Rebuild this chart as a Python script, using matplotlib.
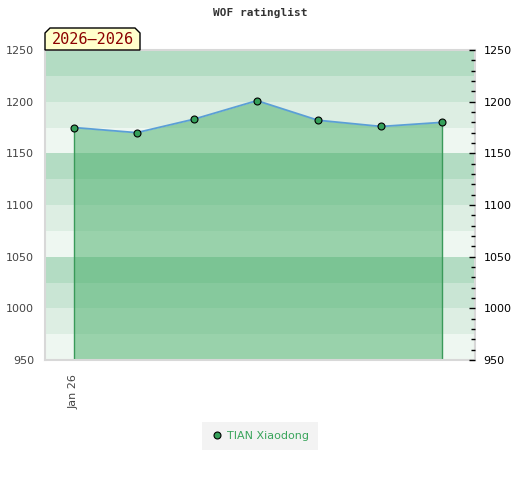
import datetime as dt
import matplotlib
matplotlib.use('Agg')
import matplotlib.pyplot as plt
import matplotlib.dates as mdates
from matplotlib.patches import Polygon
from matplotlib.ticker import MultipleLocator

# monthly rating points
dates = [dt.date(2026, m, 1) for m in range(1, 8)]
ratings = [1175, 1170, 1183, 1201, 1182, 1176, 1180]
player = 'TIAN Xiaodong'
period_label = '2026\u20132026'
y_ticks = [950, 1000, 1050, 1100, 1150, 1200, 1250]
band_colors = ['#eef7f1', '#ddeee3', '#c9e5d4', '#b3dcc3']

W, H = 520, 480
fig = plt.figure(figsize=(W / 100, H / 100), dpi=100)
ax = fig.add_axes([45 / W, 1 - 360 / H, 430 / W, 310 / H])

# background bands of 25 points
lo, hi = 950, 1250
k = 0
for y0 in range(lo, hi, 25):
    ax.axhspan(y0, y0 + 25, color=band_colors[k % 4], lw=0, zorder=0)
    k += 1

ax.fill_between(dates, ratings, lo, color='#45ae67', alpha=0.5, lw=0, zorder=1)
ax.vlines([dates[0], dates[-1]], lo, [ratings[0], ratings[-1]],
          color='#3a9a5a', lw=1, zorder=2)
ax.plot(dates, ratings, color='#5b9fd6', lw=1.3, zorder=3)
ax.plot(dates, ratings, 'o', ms=5, mfc='#35a05a', mec='black', mew=0.8,
        zorder=4, label=player)

ax.set_ylim(lo, hi)
ax.set_xlim(dates[0] - dt.timedelta(days=14), dates[-1] + dt.timedelta(days=16.5))
ax.set_yticks(y_ticks)
ax.tick_params(axis='y', length=0, labelsize=8, labelcolor='#444444', pad=8)
ax.set_xticks([dates[0]])
ax.xaxis.set_major_formatter(mdates.DateFormatter('%b %y'))
ax.tick_params(axis='x', length=0, labelsize=8, labelcolor='#444444',
               labelrotation=90, pad=10)
for s in ax.spines.values():
    s.set_color('#d8d8d8')
    s.set_linewidth(1.5)

ax2 = ax.twinx()
ax2.set_ylim(lo, hi)
ax2.set_yticks(y_ticks)
ax2.yaxis.set_minor_locator(MultipleLocator(10))
ax2.tick_params(axis='y', which='major', direction='in', length=4, width=1,
                labelsize=8, labelcolor='black', pad=6)
ax2.tick_params(axis='y', which='minor', direction='in', length=3, width=1)
for s in ax2.spines.values():
    s.set_visible(False)

fig.text(0.5, 1 - 13 / H, 'WOF ratinglist', ha='center', va='center',
         family='DejaVu Sans Mono', fontweight='bold', fontsize=8, color='#333333')

# period label box with cut top corners (figure pixel layout)
bx0, bx1, by0, by1, cut = 45, 140, 28, 50, 5
box_px = [(bx0, by1), (bx0, by0 + cut), (bx0 + cut, by0), (bx1 - cut, by0),
          (bx1, by0 + cut), (bx1, by1)]
fig.patches.append(Polygon([(x / W, 1 - y / H) for x, y in box_px], closed=True,
                           transform=fig.transFigure, fc='#ffffcc', ec='black',
                           lw=1, zorder=5))
fig.text((bx0 + bx1) / 2 / W, 1 - (by0 + by1) / 2 / H, period_label,
         ha='center', va='center', family='DejaVu Sans Mono', fontsize=11,
         color='#8b0000', zorder=6)

leg = fig.legend(loc='center', bbox_to_anchor=(260 / W, 1 - 436 / H),
                 frameon=True, fontsize=8, handletextpad=0.3, borderpad=0.5,
                 handlelength=1.2)
leg.get_frame().set_facecolor('#f0f0f0')
leg.get_frame().set_edgecolor('none')
leg.get_frame().set_boxstyle('square')
for t in leg.get_texts():
    t.set_color('#3aa55c')

fig.savefig('out.png', dpi=100)
